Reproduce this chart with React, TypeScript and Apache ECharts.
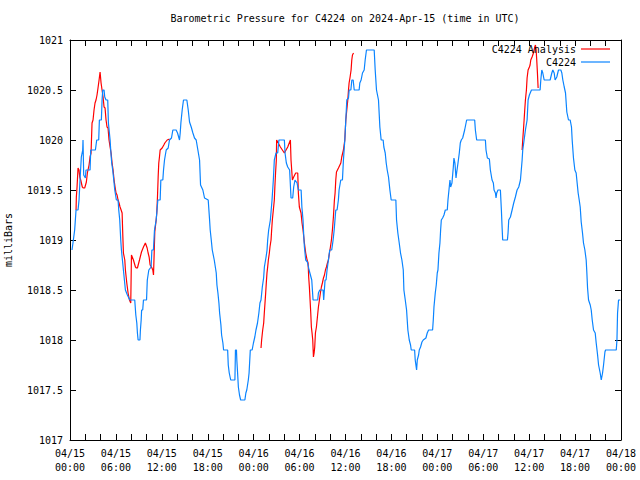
import React, { useEffect, useRef } from "react";
import * as echarts from "echarts";

const FONT = "DejaVu Sans Mono";
const TITLE = "Barometric Pressure for C4224 on 2024-Apr-15 (time in UTC)";
const Y_NAME = "milliBars";
const BLUE = "#0a84ff";
const RED = "#ff0000";

// x axis tick labels (every 6 hours from 04/15 00:00 UTC)
const xDates = ["04/15", "04/15", "04/15", "04/15", "04/16", "04/16", "04/16", "04/16", "04/17", "04/17", "04/17", "04/17", "04/18"];
const xTimes = ["00:00", "06:00", "12:00", "18:00", "00:00", "06:00", "12:00", "18:00", "00:00", "06:00", "12:00", "18:00", "00:00"];

// station observations: [hours since 04/15 00:00, mb]
const c4224Obs: [number, number][] = [
  [0.26, 1018.9], [0.44, 1019.0], [0.61, 1019.1], [0.7, 1019.2], [0.79, 1019.3], [1.05, 1019.3], [1.18, 1019.4], [1.31, 1019.6], [1.48, 1019.83], [1.66, 1019.9], [1.7, 1020.0], [1.79, 1019.65], [2.01, 1019.62], [2.09, 1019.7], [2.62, 1019.7], [2.71, 1019.9], [3.32, 1019.9], [3.49, 1020.0], [3.75, 1020.0], [3.84, 1020.2], [4.1, 1020.2], [4.19, 1020.4], [4.28, 1020.5], [4.45, 1020.5], [4.54, 1020.43], [4.71, 1020.4], [4.93, 1020.4], [5.02, 1020.17], [5.24, 1020.0], [5.32, 1019.9], [5.45, 1019.77], [5.58, 1019.7], [5.72, 1019.6], [5.85, 1019.5], [6.06, 1019.4], [6.28, 1019.4], [6.37, 1019.3], [6.5, 1019.2], [6.63, 1019.0], [6.72, 1018.9], [6.85, 1018.8], [6.98, 1018.7], [7.11, 1018.6], [7.24, 1018.5], [7.5, 1018.45], [7.81, 1018.4], [8.46, 1018.4], [8.6, 1018.25], [8.73, 1018.17], [8.81, 1018.07], [8.9, 1018.0], [9.14, 1018.0], [9.2, 1018.1], [9.3, 1018.2], [9.36, 1018.3], [9.5, 1018.3], [9.6, 1018.4], [10.0, 1018.4], [10.1, 1018.6], [10.3, 1018.7], [10.6, 1018.73], [10.7, 1018.9], [10.9, 1018.9], [11.04, 1019.1], [11.26, 1019.2], [11.48, 1019.4], [11.78, 1019.4], [11.87, 1019.6], [12.13, 1019.6], [12.22, 1019.7], [12.35, 1019.8], [12.57, 1019.9], [12.83, 1019.92], [13.0, 1020.0], [13.26, 1020.02], [13.44, 1020.1], [13.87, 1020.1], [14.05, 1020.07], [14.31, 1020.0], [14.4, 1020.07], [14.49, 1020.17], [14.66, 1020.3], [14.83, 1020.4], [15.27, 1020.4], [15.45, 1020.3], [15.62, 1020.18], [15.84, 1020.13], [16.06, 1020.07], [16.27, 1020.02], [16.49, 1020.0], [16.71, 1019.9], [16.93, 1019.8], [17.06, 1019.55], [17.36, 1019.5], [17.58, 1019.42], [18.06, 1019.4], [18.15, 1019.3], [18.24, 1019.2], [18.32, 1019.1], [18.46, 1019.0], [18.59, 1018.9], [18.85, 1018.8], [19.11, 1018.67], [19.2, 1018.55], [19.33, 1018.47], [19.46, 1018.37], [19.55, 1018.27], [19.72, 1018.15], [19.81, 1018.05], [19.98, 1017.97], [20.07, 1017.9], [20.6, 1017.9], [20.68, 1017.75], [20.81, 1017.67], [21.0, 1017.6], [21.55, 1017.6], [21.62, 1017.9], [21.75, 1017.9], [21.8, 1017.8], [21.9, 1017.67], [22.0, 1017.53], [22.15, 1017.45], [22.3, 1017.4], [22.85, 1017.4], [22.98, 1017.47], [23.1, 1017.5], [23.3, 1017.6], [23.4, 1017.67], [23.56, 1017.9], [23.8, 1017.9], [23.97, 1017.97], [24.15, 1018.03], [24.3, 1018.1], [24.5, 1018.17], [24.68, 1018.27], [24.82, 1018.37], [24.96, 1018.4], [25.13, 1018.53], [25.3, 1018.62], [25.4, 1018.73], [25.62, 1018.83], [25.75, 1018.9], [25.83, 1019.0], [25.96, 1019.1], [26.18, 1019.2], [26.4, 1019.4], [26.57, 1019.6], [26.7, 1019.8], [26.92, 1019.87], [27.14, 1019.87], [27.3, 1020.0], [28.01, 1020.0], [28.1, 1019.87], [28.27, 1019.77], [28.45, 1019.73], [28.7, 1019.7], [28.88, 1019.42], [29.1, 1019.42], [29.23, 1019.53], [29.4, 1019.6], [29.67, 1019.57], [29.84, 1019.5], [30.2, 1019.5], [30.3, 1019.33], [30.45, 1019.2], [30.55, 1019.03], [30.63, 1018.93], [30.8, 1018.8], [31.02, 1018.78], [31.24, 1018.7], [31.59, 1018.6], [31.76, 1018.4], [32.37, 1018.4], [32.46, 1018.47], [32.64, 1018.5], [33.07, 1018.5], [33.15, 1018.4], [33.24, 1018.5], [33.33, 1018.6], [33.46, 1018.6], [33.59, 1018.7], [33.94, 1018.9], [34.2, 1018.9], [34.38, 1019.0], [34.52, 1019.1], [34.73, 1019.3], [34.9, 1019.3], [35.07, 1019.4], [35.16, 1019.5], [35.38, 1019.6], [35.6, 1019.6], [35.73, 1019.8], [35.91, 1020.0], [36.04, 1020.2], [36.17, 1020.4], [36.39, 1020.42], [36.48, 1020.5], [36.7, 1020.5], [36.83, 1020.6], [37.0, 1020.6], [37.14, 1020.5], [37.78, 1020.5], [37.87, 1020.57], [38.04, 1020.6], [38.22, 1020.67], [38.44, 1020.7], [38.57, 1020.8], [38.74, 1020.9], [39.75, 1020.9], [39.88, 1020.7], [40.05, 1020.5], [40.31, 1020.4], [40.49, 1020.13], [40.66, 1020.0], [40.92, 1020.0], [41.01, 1019.93], [41.19, 1019.87], [41.32, 1019.77], [41.45, 1019.7], [41.62, 1019.63], [41.8, 1019.5], [41.97, 1019.4], [42.58, 1019.4], [42.67, 1019.2], [42.84, 1019.07], [43.02, 1018.97], [43.19, 1018.87], [43.37, 1018.8], [43.55, 1018.7], [43.63, 1018.5], [43.81, 1018.4], [43.98, 1018.3], [44.15, 1018.1], [44.33, 1018.0], [44.5, 1017.95], [44.59, 1017.9], [45.03, 1017.9], [45.11, 1017.8], [45.29, 1017.7], [45.38, 1017.8], [45.55, 1017.85], [45.64, 1017.9], [45.81, 1017.93], [45.99, 1017.98], [46.16, 1018.0], [46.51, 1018.02], [46.68, 1018.07], [46.86, 1018.1], [47.38, 1018.1], [47.47, 1018.2], [47.56, 1018.33], [47.73, 1018.47], [47.86, 1018.55], [47.99, 1018.67], [48.08, 1018.7], [48.21, 1018.87], [48.34, 1018.97], [48.43, 1019.1], [48.52, 1019.2], [48.69, 1019.22], [48.87, 1019.25], [49.04, 1019.3], [49.3, 1019.3], [49.39, 1019.4], [49.52, 1019.5], [49.65, 1019.6], [49.74, 1019.53], [49.91, 1019.57], [50.09, 1019.73], [50.17, 1019.82], [50.3, 1019.77], [50.44, 1019.62], [50.52, 1019.67], [50.7, 1019.77], [50.87, 1019.87], [51.0, 1019.97], [51.13, 1020.0], [51.31, 1020.02], [51.57, 1020.1], [51.83, 1020.2], [52.88, 1020.2], [52.97, 1020.1], [53.14, 1020.0], [54.28, 1020.0], [54.36, 1019.9], [54.54, 1019.82], [54.8, 1019.81], [54.93, 1019.7], [55.15, 1019.6], [55.32, 1019.57], [55.41, 1019.5], [55.59, 1019.47], [55.67, 1019.42], [55.76, 1019.47], [55.93, 1019.5], [56.24, 1019.5], [56.37, 1019.3], [56.46, 1019.13], [56.54, 1019.0], [57.16, 1019.0], [57.24, 1019.07], [57.33, 1019.2], [57.55, 1019.23], [57.77, 1019.3], [57.98, 1019.37], [58.2, 1019.43], [58.42, 1019.5], [58.64, 1019.53], [58.86, 1019.6], [59.08, 1019.8], [59.16, 1019.9], [59.34, 1020.0], [59.51, 1020.1], [59.73, 1020.2], [59.86, 1020.4], [60.03, 1020.45], [60.3, 1020.5], [61.43, 1020.5], [61.52, 1020.6], [61.65, 1020.7], [61.78, 1020.67], [61.96, 1020.6], [62.74, 1020.6], [62.96, 1020.67], [63.09, 1020.7], [63.27, 1020.67], [63.39, 1020.6], [63.61, 1020.63], [63.83, 1020.7], [64.14, 1020.7], [64.27, 1020.67], [64.4, 1020.6], [64.58, 1020.53], [64.75, 1020.47], [64.92, 1020.28], [65.14, 1020.2], [65.36, 1020.2], [65.53, 1020.13], [65.62, 1020.0], [65.79, 1019.82], [65.97, 1019.7], [66.14, 1019.67], [66.27, 1019.57], [66.4, 1019.47], [66.54, 1019.4], [66.67, 1019.33], [66.8, 1019.18], [66.97, 1019.07], [67.1, 1018.97], [67.28, 1018.9], [67.45, 1018.8], [67.54, 1018.67], [67.63, 1018.52], [67.76, 1018.4], [67.98, 1018.35], [68.11, 1018.3], [68.24, 1018.2], [68.41, 1018.1], [68.63, 1018.07], [68.76, 1017.97], [68.94, 1017.85], [69.07, 1017.75], [69.28, 1017.67], [69.42, 1017.6], [69.59, 1017.67], [69.72, 1017.75], [69.9, 1017.88], [69.98, 1017.9], [71.38, 1017.9], [71.47, 1018.0], [71.55, 1018.27], [71.68, 1018.4], [71.9, 1018.4],
];

// analysis runs (three separate periods)
const analysisRun1: [number, number][] = [
  [0.79, 1019.3], [0.83, 1019.43], [0.92, 1019.53], [1.05, 1019.72], [1.18, 1019.7], [1.27, 1019.63], [1.4, 1019.6], [1.61, 1019.53], [1.75, 1019.52], [1.92, 1019.52], [2.14, 1019.58], [2.27, 1019.67], [2.49, 1019.75], [2.62, 1019.83], [2.75, 1019.87], [2.88, 1020.17], [3.01, 1020.2], [3.14, 1020.3], [3.27, 1020.37], [3.4, 1020.4], [3.53, 1020.45], [3.66, 1020.52], [3.8, 1020.6], [3.93, 1020.68], [4.06, 1020.57], [4.19, 1020.5], [4.32, 1020.43], [4.45, 1020.33], [4.58, 1020.32], [4.71, 1020.2], [4.84, 1020.13], [4.97, 1020.12], [5.1, 1020.0], [5.24, 1019.93], [5.37, 1019.87], [5.5, 1019.77], [5.63, 1019.7], [5.76, 1019.6], [5.89, 1019.53], [6.02, 1019.47], [6.15, 1019.45], [6.28, 1019.4], [6.41, 1019.37], [6.54, 1019.33], [6.68, 1019.3], [6.81, 1019.27], [6.89, 1019.07], [6.98, 1018.87], [7.16, 1018.8], [7.24, 1018.7], [7.42, 1018.57], [7.59, 1018.47], [7.77, 1018.4], [7.94, 1018.37], [8.03, 1018.85], [8.29, 1018.8], [8.55, 1018.73], [8.68, 1018.72], [8.81, 1018.72], [9.08, 1018.8], [9.34, 1018.88], [9.6, 1018.93], [9.85, 1018.97], [10.08, 1018.92], [10.21, 1018.87], [10.34, 1018.83], [10.47, 1018.75], [10.65, 1018.73], [10.82, 1018.7], [10.91, 1018.65], [11.0, 1018.87], [11.08, 1019.08], [11.26, 1019.2], [11.34, 1019.27], [11.43, 1019.43], [11.52, 1019.63], [11.6, 1019.77], [11.69, 1019.83], [11.78, 1019.9], [12.04, 1019.92], [12.26, 1019.95], [12.39, 1019.97], [12.7, 1020.0], [13.0, 1020.01],
];
const analysisRun2: [number, number][] = [
  [24.96, 1017.92], [25.04, 1018.0], [25.18, 1018.1], [25.31, 1018.17], [25.39, 1018.27], [25.48, 1018.37], [25.57, 1018.47], [25.65, 1018.57], [25.74, 1018.67], [25.83, 1018.73], [25.92, 1018.8], [26.05, 1018.87], [26.13, 1018.93], [26.27, 1019.0], [26.35, 1019.1], [26.44, 1019.2], [26.57, 1019.3], [26.7, 1019.4], [26.77, 1019.53], [26.86, 1019.67], [26.96, 1019.8], [27.0, 1020.0], [27.49, 1019.93], [28.01, 1019.87], [28.45, 1019.93], [28.8, 1020.0], [28.88, 1019.8], [29.06, 1019.6], [29.23, 1019.63], [29.49, 1019.67], [29.76, 1019.67], [29.84, 1019.47], [29.97, 1019.33], [30.19, 1019.27], [30.32, 1019.17], [30.45, 1019.1], [30.63, 1018.97], [30.8, 1018.87], [30.98, 1018.8], [31.11, 1018.77], [31.19, 1018.63], [31.28, 1018.53], [31.37, 1018.4], [31.46, 1018.27], [31.54, 1018.13], [31.63, 1018.07], [31.72, 1018.0], [31.81, 1017.83], [31.9, 1017.87], [31.98, 1017.93], [32.07, 1018.07], [32.2, 1018.13], [32.33, 1018.23], [32.46, 1018.33], [32.59, 1018.4], [32.72, 1018.47], [32.85, 1018.53], [32.98, 1018.57], [33.12, 1018.62], [33.25, 1018.65], [33.38, 1018.7], [33.51, 1018.73], [33.64, 1018.77], [33.77, 1018.8], [33.9, 1018.87], [34.03, 1018.93], [34.16, 1019.0], [34.29, 1019.1], [34.42, 1019.23], [34.55, 1019.4], [34.64, 1019.47], [34.73, 1019.6], [34.82, 1019.68], [35.08, 1019.72], [35.39, 1019.77], [35.51, 1019.83], [35.73, 1019.9], [35.91, 1020.0], [36.04, 1020.2], [36.17, 1020.3], [36.3, 1020.4], [36.39, 1020.5], [36.47, 1020.57], [36.6, 1020.63], [36.73, 1020.7], [36.82, 1020.8], [36.91, 1020.85], [37.05, 1020.87],
];
const analysisRun3: [number, number][] = [
  [59.08, 1019.9], [59.16, 1020.0], [59.25, 1020.1], [59.34, 1020.2], [59.42, 1020.3], [59.51, 1020.4], [59.64, 1020.5], [59.73, 1020.62], [59.86, 1020.7], [60.03, 1020.73], [60.12, 1020.75], [60.21, 1020.8], [60.38, 1020.83], [60.56, 1020.87], [60.73, 1020.93], [60.82, 1020.95], [60.91, 1020.9], [60.99, 1020.8], [61.08, 1020.67], [61.17, 1020.52],
];

export default function App() {
  const ref = useRef<HTMLDivElement>(null);
  useEffect(() => {
    if (!ref.current) return;
    const chart = echarts.init(ref.current, null, { renderer: "svg" });
    const gap: any[] = [[18, "-"]];
    const gap2: any[] = [[48, "-"]];
    const analysisData = [...analysisRun1, ...gap, ...analysisRun2, ...gap2, ...analysisRun3];
    const axisLine = { show: true, onZero: false, lineStyle: { color: "#000", width: 1 } };
    const tick = { show: true, inside: true, length: 6, lineStyle: { color: "#000", width: 1 } };
    const minor = { show: true, splitNumber: 3, length: 6, lineStyle: { color: "#000", width: 1 } };
    const txt = { fontFamily: FONT, fontSize: 10, color: "#000" };
    const legendBase = {
      orient: "vertical",
      align: "right",
      right: 30,
      icon: "rect",
      itemWidth: 29,
      itemHeight: 1.2,
      itemGap: 0,
      padding: 0,
      selectedMode: false,
      textStyle: { ...txt, lineHeight: 12 },
    };
    chart.setOption({
      animation: false,
      backgroundColor: "#fff",
      textStyle: { fontFamily: FONT },
      title: {
        text: TITLE,
        left: 345,
        textAlign: "center",
        top: 13,
        padding: 0,
        textStyle: { ...txt, fontWeight: "normal" },
      },
      legend: [
        { ...legendBase, top: 43, data: ["C4224 Analysis"] },
        { ...legendBase, top: 56, data: ["C4224"] },
      ],
      grid: { left: 70, right: 19, top: 40, bottom: 40, show: false, containLabel: false, outerBoundsMode: "none" },
      xAxis: [
        {
          type: "value",
          min: 0,
          max: 72,
          interval: 6,
          position: "bottom",
          axisLine,
          axisTick: tick,
          minorTick: minor,
          splitLine: { show: false },
          axisLabel: {
            ...txt,
            lineHeight: 14,
            margin: 6,
            showMinLabel: true,
            showMaxLabel: true,
            formatter: (v: number) => {
              const i = Math.round(v / 6);
              return `${xDates[i]}\n${xTimes[i]}`;
            },
          },
        },
        {
          type: "value",
          min: 0,
          max: 72,
          interval: 6,
          position: "top",
          axisLine,
          axisTick: tick,
          minorTick: minor,
          splitLine: { show: false },
          axisLabel: { show: false },
        },
      ],
      yAxis: [
        {
          type: "value",
          min: 1017,
          max: 1021,
          interval: 0.5,
          position: "left",
          name: Y_NAME,
          nameLocation: "middle",
          nameGap: 57,
          nameTextStyle: txt,
          axisLine,
          axisTick: tick,
          splitLine: { show: false },
          axisLabel: { ...txt, margin: 7, formatter: (v: number) => String(v) },
        },
        {
          type: "value",
          min: 1017,
          max: 1021,
          interval: 0.5,
          position: "right",
          axisLine,
          axisTick: tick,
          splitLine: { show: false },
          axisLabel: { show: false },
        },
      ],
      series: [
        {
          name: "C4224 Analysis",
          type: "line",
          data: analysisData,
          symbol: "none",
          connectNulls: false,
          lineStyle: { color: RED, width: 1.2 },
          itemStyle: { color: RED },
        },
        {
          name: "C4224",
          type: "line",
          data: c4224Obs,
          symbol: "none",
          lineStyle: { color: BLUE, width: 1.2 },
          itemStyle: { color: BLUE },
        },
      ],
    });
    return () => chart.dispose();
  }, []);
  return <div ref={ref} style={{ position: "fixed", left: 0, top: 0, width: 640, height: 480 }} />;
}
